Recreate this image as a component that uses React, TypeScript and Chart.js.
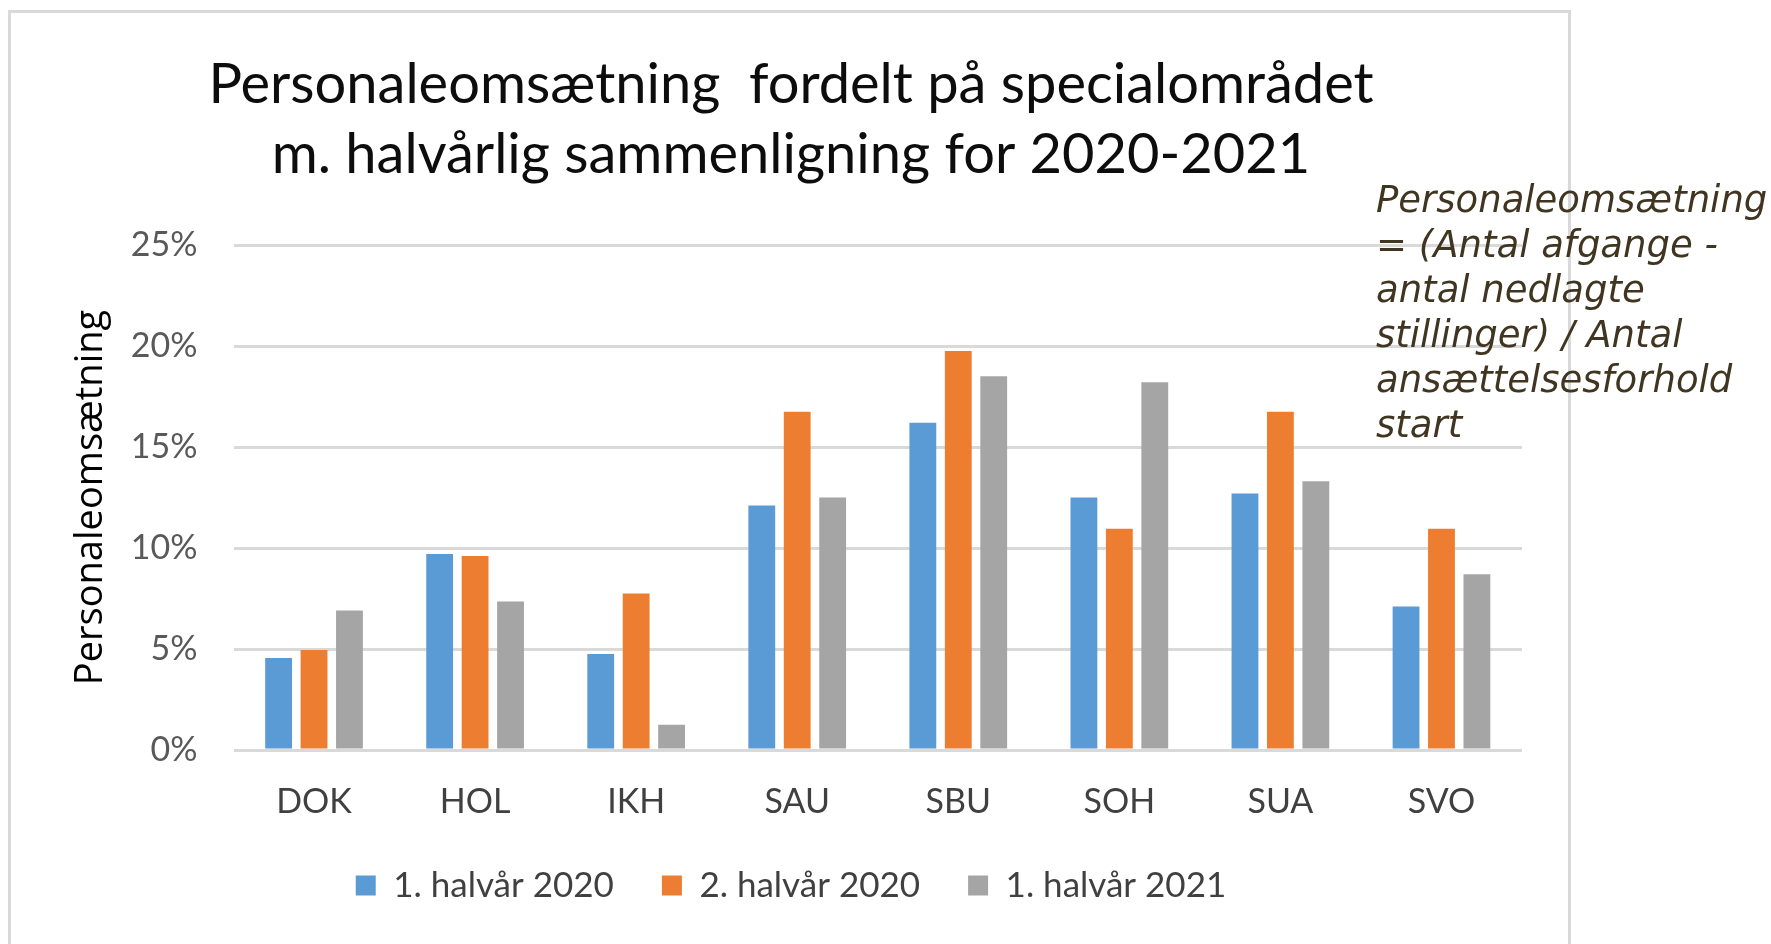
import React, { useEffect, useRef } from "react";
import { Chart, registerables } from "chart.js";

Chart.register(...registerables);

const categories = ["DOK", "HOL", "IKH", "SAU", "SBU", "SOH", "SUA", "SVO"];
const seriesNames = ["1. halvår 2020", "2. halvår 2020", "1. halvår 2021"];
const firstHalf2020 = [4.55, 9.7, 4.75, 12.1, 16.2, 12.5, 12.7, 7.1];
const secondHalf2020 = [4.95, 9.6, 7.75, 16.75, 19.75, 10.95, 16.75, 10.95];
const firstHalf2021 = [6.9, 7.35, 1.25, 12.5, 18.5, 18.2, 13.3, 8.7];
const yTickValues = [0, 5, 10, 15, 20, 25];
const titleLines = [
  "Personaleomsætning  fordelt på specialområdet",
  "m. halvårlig sammenligning for 2020-2021",
];
const yAxisTitle = "Personaleomsætning";
const noteLines = [
  "Personaleomsætning",
  "= (Antal afgange -",
  "antal nedlagte",
  "stillinger) / Antal",
  "ansættelsesforhold",
  "start",
];
const seriesColors = ["#5b9bd5", "#ed7d31", "#a5a5a5"];

const CANVAS_W = 1557;
const CANVAS_H = 931;

export default function App() {
  const canvasRef = useRef<HTMLCanvasElement | null>(null);

  useEffect(() => {
    const canvas = canvasRef.current;
    if (!canvas) return;
    const seriesValues = [firstHalf2020, secondHalf2020, firstHalf2021];
    const chart = new Chart(canvas, {
      type: "bar",
      data: {
        labels: categories,
        datasets: seriesNames.map((name, i) => ({
          label: name,
          data: seriesValues[i],
          backgroundColor: seriesColors[i],
          borderWidth: 0,
          barPercentage: 0.757,
          categoryPercentage: 0.66,
        })),
      },
      options: {
        animation: false,
        responsive: false,
        devicePixelRatio: 1,
        layout: { padding: { left: 49, right: 46, top: 0, bottom: 31 } },
        plugins: {
          title: {
            display: true,
            text: titleLines,
            color: "#0d0d0d",
            font: { family: "Lato", size: 56, weight: "normal", lineHeight: 70 / 56 },
            padding: { top: 37, bottom: 55 },
          },
          legend: {
            display: true,
            position: "bottom",
            labels: {
              boxWidth: 20,
              boxHeight: 20,
              padding: 48,
              color: "#404040",
              font: { family: "Lato", size: 35 },
            },
          },
          tooltip: { enabled: false },
        },
        scales: {
          x: {
            grid: { display: false, drawTicks: false },
            border: { display: false },
            ticks: {
              color: "#404040",
              font: { family: "Lato", size: 34 },
              padding: 32,
              autoSkip: false,
              maxRotation: 0,
              minRotation: 0,
            },
            afterFit: (scale: any) => {
              scale.height = 70;
            },
          },
          y: {
            min: 0,
            max: 25,
            grid: { color: "#d9d9d9", lineWidth: 3, drawTicks: false },
            border: { display: false },
            ticks: {
              color: "#595959",
              font: { family: "Lato", size: 34 },
              padding: 36,
              callback: (v: any) => `${v}%`,
            },
            afterBuildTicks: (scale: any) => {
              scale.ticks = yTickValues.map((v) => ({ value: v }));
            },
            title: {
              display: true,
              text: yAxisTitle,
              color: "#000000",
              font: { family: "Open Sans", size: 38 },
              padding: { top: 8, bottom: 0 },
            },
            afterFit: (scale: any) => {
              scale.width = 173.5;
            },
          },
        },
      },
    });
    return () => chart.destroy();
  }, []);

  return (
    <div
      style={{
        position: "fixed",
        left: 0,
        top: 0,
        width: 1771,
        height: 944,
        background: "#ffffff",
        overflow: "hidden",
      }}
    >
      <div
        style={{
          position: "absolute",
          left: 8,
          top: 10,
          width: 1563,
          height: 980,
          border: "3px solid #d9d9d9",
          boxSizing: "border-box",
        }}
      />
      <canvas
        ref={canvasRef}
        width={CANVAS_W}
        height={CANVAS_H}
        style={{
          position: "absolute",
          left: 11,
          top: 13,
          width: CANVAS_W,
          height: CANVAS_H,
        }}
      />
      <div
        style={{
          position: "absolute",
          left: 1376,
          top: 177,
          fontFamily: "'DejaVu Sans', sans-serif",
          fontStyle: "italic",
          fontSize: 37,
          lineHeight: "45px",
          color: "#403520",
          whiteSpace: "pre",
        }}
      >
        {noteLines.join("\n")}
      </div>
    </div>
  );
}
